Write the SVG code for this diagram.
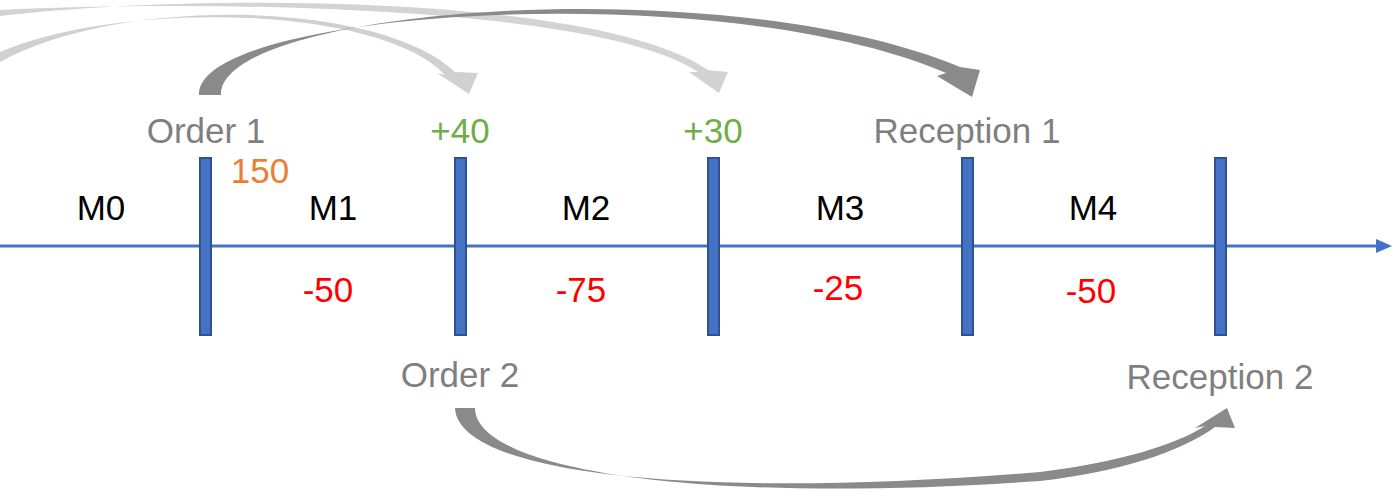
<svg xmlns="http://www.w3.org/2000/svg" width="1400" height="497" viewBox="0 0 1400 497">
<style>
text{font-family:"Liberation Sans",Arial,sans-serif;font-size:35px;text-anchor:middle}
.g{fill:#7f7f7f}.gr{fill:#70ad47}.r{fill:#ff0000}.k{fill:#000}.o{fill:#ed7d31}
.bar{fill:#4472c4;stroke:#2f528f;stroke-width:2}
</style>
<rect width="1400" height="497" fill="#fff"/>
<g id="connectors">
<path d="M0,52 C120,0 380,5 445,75 L437,73 L469,94 L478,73 L455,72 C380,0 120,-5 0,62 Z" fill="#d0d0d0"/>
<path d="M0,10 C200,0 600,5 698,72 L689,72 L719,93 L728,72 L708,70 C600,-5 200,-8 0,16 Z" fill="#d3d3d3"/>
<path d="M199,95 C195,10 720,-25 946,73 L937,76 L972,97 L980,70 L960,67 C720,-32 218,8 221,95 Z" fill="#8a8a8a"/>
<path d="M455,408 C458,475 700,500 1040,472 C1120,462 1175,445 1205,426 L1195,428 L1227,408 L1235,428 L1215,427 C1180,452 1120,472 1040,481 C700,505 475,470 475,408 Z" fill="#8a8a8a"/>
<g id="timeline">
<line x1="0" y1="246" x2="1380" y2="246" stroke="#4472c4" stroke-width="3"/>
<path d="M1376,239 L1392,246 L1376,253 Z" fill="#4472c4"/>
</g>
</g>
<g id="bar0"><rect class="bar" x="200" y="158" width="11" height="177"/></g>
<g id="bar1"><rect class="bar" x="455" y="158" width="11" height="177"/></g>
<g id="bar2"><rect class="bar" x="708" y="158" width="11" height="177"/></g>
<g id="bar3"><rect class="bar" x="962" y="158" width="11" height="177"/></g>
<g id="bar4"><rect class="bar" x="1215" y="158" width="11" height="177"/></g>
<g id="labels">
<text class="g" x="206" y="143">Order 1</text>
<text class="gr" x="460" y="143">+40</text>
<text class="gr" x="713" y="143">+30</text>
<text class="g" x="967" y="143">Reception 1</text>
<text class="o" x="260" y="183">150</text>
<text class="k" x="101" y="220">M0</text>
<text class="k" x="333" y="220">M1</text>
<text class="k" x="586" y="220">M2</text>
<text class="k" x="840" y="220">M3</text>
<text class="k" x="1093" y="220">M4</text>
<text class="r" x="328" y="302">-50</text>
<text class="r" x="581" y="302">-75</text>
<text class="r" x="838" y="300">-25</text>
<text class="r" x="1091" y="303">-50</text>
<text class="g" x="460" y="387">Order 2</text>
<text class="g" x="1220" y="389">Reception 2</text>
</g>
</svg>
